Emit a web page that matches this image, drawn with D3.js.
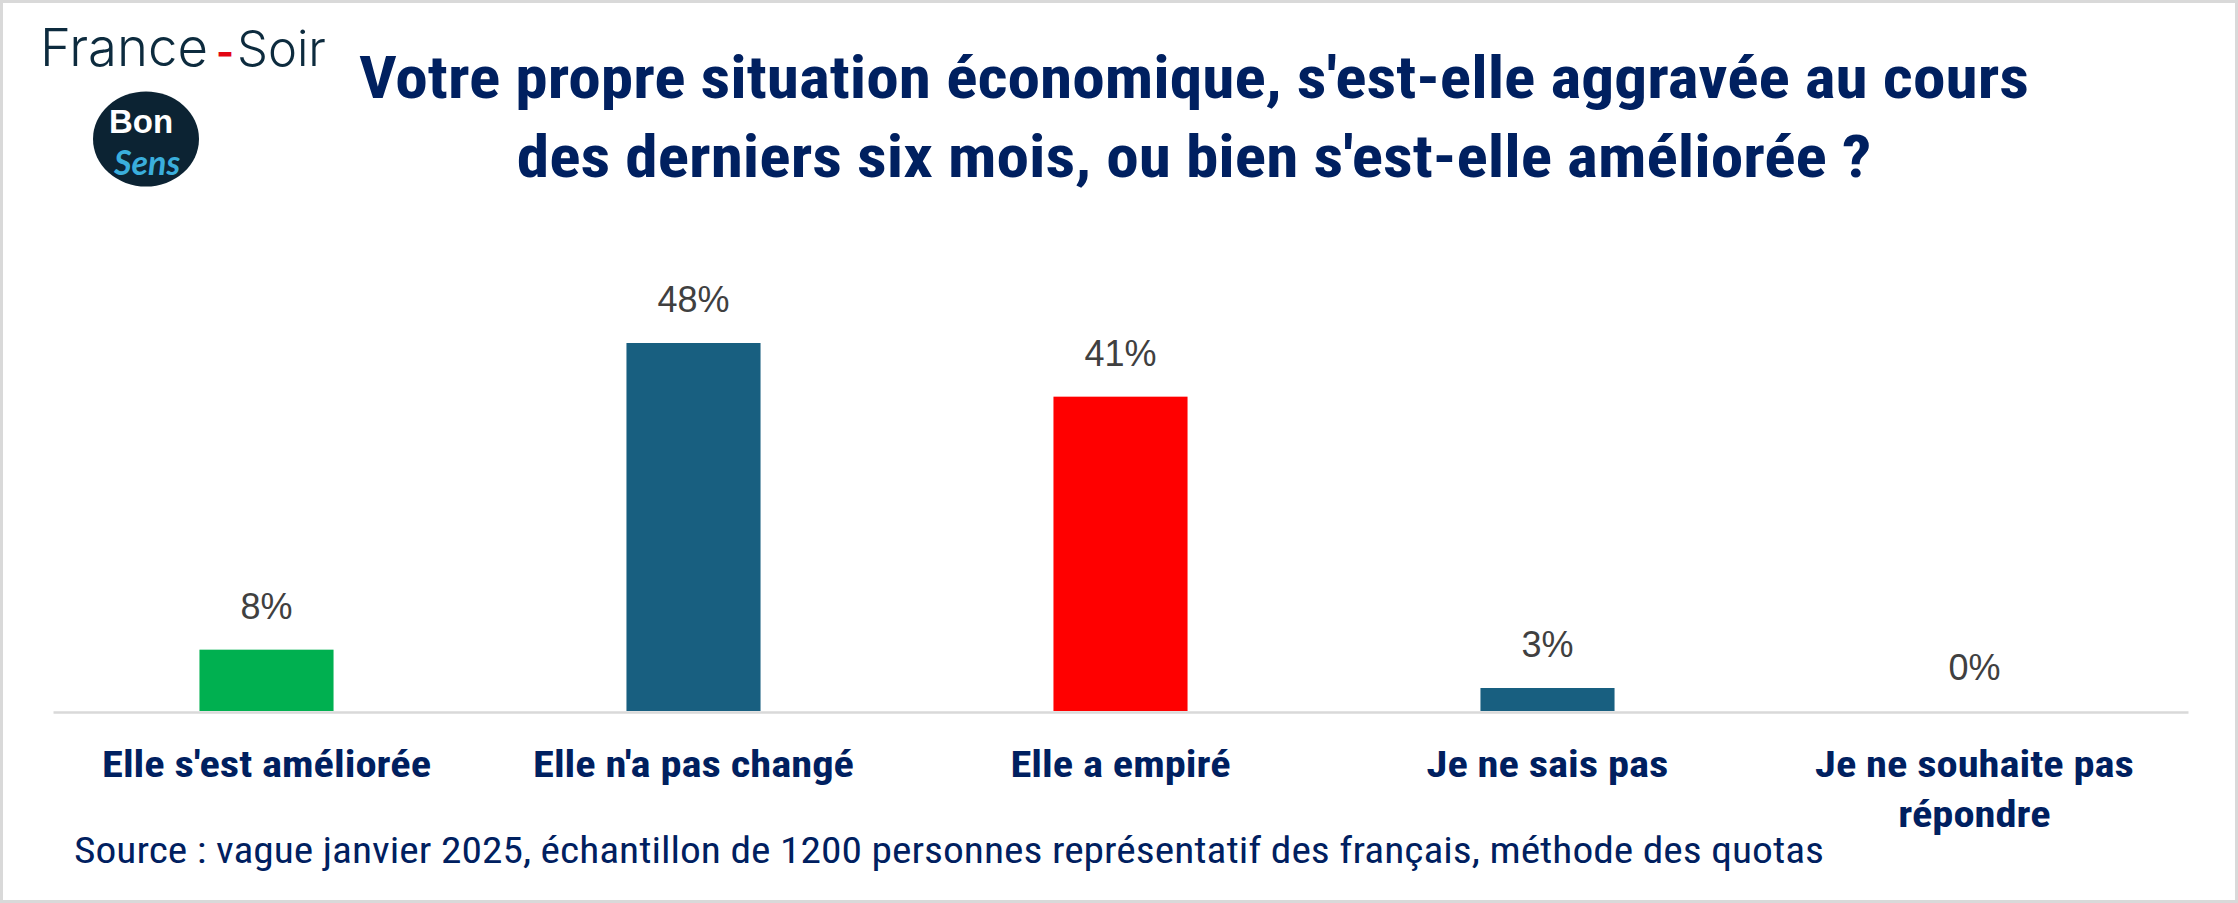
<!DOCTYPE html>
<html>
<head>
<meta charset="utf-8">
<script src="https://cdn.jsdelivr.net/npm/d3@7"></script>
<style>
  html, body { margin: 0; padding: 0; background: #ffffff; }
  svg { display: block; }
</style>
</head>
<body>
<svg id="chart" width="2238" height="903"></svg>
<script>
// ---------- data ----------
const categories = [
  "Elle s'est améliorée",
  "Elle n'a pas changé",
  "Elle a empiré",
  "Je ne sais pas",
  "Je ne souhaite pas répondre"
];
const labelLines = [
  ["Elle s'est améliorée"],
  ["Elle n'a pas changé"],
  ["Elle a empiré"],
  ["Je ne sais pas"],
  ["Je ne souhaite pas", "répondre"]
];
const values = [8, 48, 41, 3, 0];
const barColors = ["#00b050", "#185f80", "#ff0000", "#185f80", "#185f80"];
const titleLines = [
  "Votre propre situation économique, s'est-elle aggravée au cours",
  "des derniers six mois, ou bien s'est-elle améliorée ?"
];
const sourceText = "Source : vague janvier 2025, échantillon de 1200 personnes représentatif des français, méthode des quotas";

// ---------- setup ----------
const W = 2238, H = 903;
const NARROW = "'Liberation Sans Narrow', 'Roboto Condensed', 'DejaVu Sans Condensed', 'Liberation Sans', Arial, sans-serif";
const NAVY = "#002060";
const svg = d3.select("#chart");

svg.append("rect").attr("x", 1.5).attr("y", 1.5).attr("width", W - 3).attr("height", H - 3)
  .attr("fill", "#ffffff").attr("stroke", "#d9d9d9").attr("stroke-width", 3);

const x = d3.scaleBand().domain(categories).range([53, 2188]).paddingInner(0.686).paddingOuter(0.343);
const y = d3.scaleLinear().domain([0, 48]).range([711, 343]);

function condense(els, refWidth) {
  const k = refWidth / els[0].node().getComputedTextLength();
  els.forEach(el => {
    const w = el.node().getComputedTextLength();
    el.attr("textLength", w * k).attr("lengthAdjust", "spacingAndGlyphs");
  });
}

// ---------- title ----------
const titleEls = [];
const title = svg.append("g").attr("class", "title");
titleLines.forEach((t, i) => {
  const el = title.append("text")
    .attr("x", 1194).attr("y", 98 + i * 78.5)
    .attr("text-anchor", "middle")
    .attr("font-family", NARROW).attr("font-weight", 700).attr("font-size", 59)
    .attr("fill", NAVY).text(t);
  titleEls.push(el);
});
condense(titleEls, 1670);

// ---------- bars ----------
svg.append("g").selectAll("rect").data(values).join("rect")
  .attr("x", (d, i) => x(categories[i]))
  .attr("width", x.bandwidth())
  .attr("y", d => y(d))
  .attr("height", d => y(0) - y(d))
  .attr("fill", (d, i) => barColors[i]);

// ---------- axis ----------
const axis = svg.append("g").attr("transform", `translate(0,${y(0) + 1})`)
  .call(d3.axisBottom(x).tickSize(0).tickSizeOuter(0).tickFormat(""));
axis.select(".domain").attr("stroke", "#d9d9d9").attr("stroke-width", 2.5);

// ---------- value labels ----------
svg.append("g").selectAll("text").data(values).join("text")
  .attr("x", (d, i) => x(categories[i]) + x.bandwidth() / 2)
  .attr("y", d => y(d) - 31)
  .attr("text-anchor", "middle")
  .attr("font-family", "'Liberation Sans', Arial, sans-serif")
  .attr("font-size", 36)
  .attr("fill", "#404040")
  .text(d => d + "%");

// ---------- category labels ----------
const catEls = [];
const catG = svg.append("g");
labelLines.forEach((lines, i) => {
  lines.forEach((ln, j) => {
    const el = catG.append("text")
      .attr("x", x(categories[i]) + x.bandwidth() / 2)
      .attr("y", 777 + j * 50)
      .attr("text-anchor", "middle")
      .attr("font-family", NARROW).attr("font-weight", 700).attr("font-size", 36)
      .attr("fill", NAVY).text(ln);
    catEls.push(el);
  });
});
condense(catEls, 329);

// ---------- source ----------
const src = svg.append("text").attr("x", 74).attr("y", 863)
  .attr("font-family", NARROW).attr("font-size", 36)
  .attr("fill", NAVY).text(sourceText);
condense([src], 1750);

// ---------- logos ----------
const LOGOFONT = "Inter, Lato, 'Open Sans', sans-serif";
function fitText(el, target, baseSize) {
  const w = el.node().getComputedTextLength();
  el.attr("font-size", baseSize * target / w);
}
const fr = svg.append("text").attr("x", 40).attr("y", 66)
  .attr("font-family", LOGOFONT).attr("font-weight", 300)
  .attr("font-size", 55).attr("fill", "#0d2b3e").text("France");
fitText(fr, 168, 55);
const dash = svg.append("text").attr("x", 216).attr("y", 66)
  .attr("font-family", LOGOFONT).attr("font-weight", 700)
  .attr("font-size", 55).attr("fill", "#e30613").text("-");
fitText(dash, 18, 55);
const so = svg.append("text").attr("x", 237).attr("y", 66)
  .attr("font-family", LOGOFONT).attr("font-weight", 300)
  .attr("font-size", 55).attr("fill", "#0d2b3e").text("Soir");
fitText(so, 89, 55);

const logo = svg.append("g");
logo.append("ellipse").attr("cx", 146).attr("cy", 139).attr("rx", 53).attr("ry", 47.5).attr("fill", "#0c2333");
logo.append("text").attr("x", 109).attr("y", 133)
  .attr("font-family", "'Liberation Sans', Arial, sans-serif").attr("font-weight", 700)
  .attr("font-size", 33).attr("fill", "#ffffff").text("Bon");
logo.append("text").attr("x", 114).attr("y", 175)
  .attr("font-family", "Lato, 'Open Sans', sans-serif").attr("font-style", "italic").attr("font-weight", 700)
  .attr("font-size", 34).attr("fill", "#3aaedc").text("Sens");
</script>
</body>
</html>
